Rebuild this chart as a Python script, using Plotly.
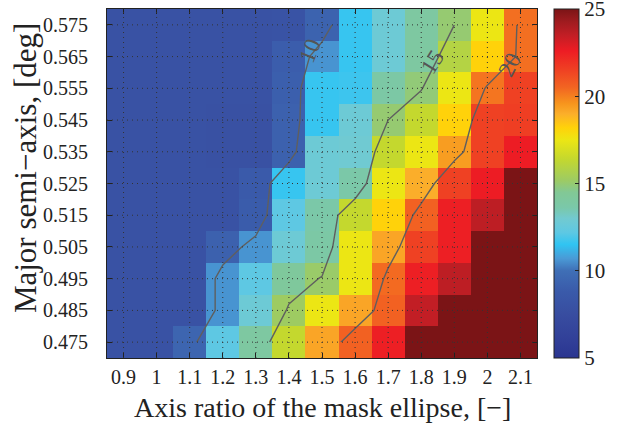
import plotly.graph_objects as go

# Data
axis_ratio = [0.9, 1.0, 1.1, 1.2, 1.3, 1.4, 1.5, 1.6, 1.7, 1.8, 1.9, 2.0, 2.1]
x_tick_text = ["0.9", "1", "1.1", "1.2", "1.3", "1.4", "1.5", "1.6", "1.7", "1.8", "1.9", "2", "2.1"]
semi_axis = [0.475, 0.485, 0.495, 0.505, 0.515, 0.525, 0.535, 0.545, 0.555, 0.565, 0.575]
y_tick_text = ["0.475", "0.485", "0.495", "0.505", "0.515", "0.525", "0.535", "0.545", "0.555", "0.565", "0.575"]

# rows listed bottom (0.475) to top (0.575)
row_0475 = [8.0, 8.0, 9.4, 12.2, 14.0, 16.4, 19.2, 20.6, 22.5, 26.0, 26.0, 26.0, 26.0]
row_0485 = [8.0, 8.0, 8.0, 10.6, 12.8, 15.2, 17.5, 19.2, 20.6, 23.5, 26.0, 26.0, 26.0]
row_0495 = [8.0, 8.0, 8.0, 10.6, 12.2, 14.2, 15.1, 17.5, 20.4, 22.5, 23.6, 26.0, 26.0]
row_0505 = [8.0, 8.0, 8.0, 9.2, 10.6, 12.8, 13.8, 17.5, 19.2, 21.5, 22.5, 25.5, 26.0]
row_0515 = [8.0, 8.0, 8.0, 8.0, 8.9, 12.2, 13.7, 16.4, 18.2, 20.6, 22.5, 23.6, 25.5]
row_0525 = [8.0, 8.0, 8.0, 8.0, 8.8, 11.6, 12.8, 13.7, 17.5, 19.0, 21.5, 22.6, 25.0]
row_0535 = [8.0, 8.0, 8.0, 7.9, 7.9, 9.2, 12.8, 12.9, 16.4, 17.5, 19.4, 21.5, 22.6]
row_0545 = [8.0, 8.0, 8.0, 7.9, 7.9, 9.2, 11.6, 12.8, 15.0, 16.4, 18.2, 21.5, 21.6]
row_0555 = [8.0, 8.0, 8.0, 8.0, 8.0, 9.1, 11.6, 11.7, 13.8, 14.9, 17.5, 20.2, 21.5]
row_0565 = [8.0, 8.0, 8.0, 8.0, 8.0, 9.0, 10.6, 11.6, 12.8, 14.0, 15.9, 18.2, 20.3]
row_0575 = [8.0, 8.0, 8.0, 8.0, 8.0, 8.1, 9.3, 11.6, 12.8, 14.0, 15.0, 17.5, 20.3]

z = [row_0475, row_0485, row_0495, row_0505, row_0515, row_0525,
     row_0535, row_0545, row_0555, row_0565, row_0575]

contour_levels = [10, 15, 20]
# contour label placement (x, y, angle) as seen in the original
label_x = [1.465, 1.833, 2.068]
label_y = [0.5668, 0.5632, 0.5625]
label_angle = [-68, -58, -62]

cbar_ticks = [5, 10, 15, 20, 25]

zmin, zmax = 5, 25
stops = [
    (5.0, "#2a3590"), (6.0, "#313f98"), (7.5, "#384da0"), (8.8, "#3a5aaa"),
    (10.0, "#3f6fb6"), (10.7, "#4a9ad6"), (11.5, "#30c4f2"), (12.2, "#5ec8e3"),
    (13.0, "#72cad0"), (13.6, "#7ac8aa"), (14.5, "#82c895"), (15.2, "#9ecb62"),
    (16.4, "#c4d82e"), (17.5, "#ece614"), (18.2, "#ffd20a"), (19.0, "#fbae2a"),
    (19.6, "#f7941d"), (20.5, "#f26522"), (21.5, "#ef4123"), (22.6, "#ed1c24"),
    (23.5, "#c21e25"), (24.3, "#9e1b1f"), (25.0, "#7b1416"),
]
colorscale = [[(v - zmin) / (zmax - zmin), c] for v, c in stops]

font_family = "Liberation Serif, Times New Roman, Times, serif"

fig = go.Figure()
fig.add_trace(go.Heatmap(
    x=axis_ratio, y=semi_axis, z=z, zmin=zmin, zmax=zmax,
    colorscale=colorscale,
    colorbar=dict(
        thickness=25, len=1, lenmode="fraction", y=0.5, yanchor="middle",
        x=1.04, xanchor="left", xpad=0, ypad=0,
        outlinewidth=1, outlinecolor="#222",
        tickmode="array", tickvals=cbar_ticks, ticktext=[str(t) for t in cbar_ticks],
        ticks="inside", ticklen=4, tickcolor="#222",
        ticklabeloverflow="allow",
        tickfont=dict(family=font_family, size=21, color="#222"),
    ),
    hoverinfo="skip",
))
fig.add_trace(go.Contour(
    x=axis_ratio, y=semi_axis, z=z,
    autocontour=False,
    contours=dict(start=contour_levels[0], end=contour_levels[-1], size=5,
                  coloring="none", showlabels=False),
    line=dict(color="#5f5f5f", width=1.4, smoothing=0),
    showscale=False, hoverinfo="skip",
))

shapes = []
for xv in axis_ratio:
    shapes.append(dict(type="line", xref="x", yref="paper", x0=xv, x1=xv, y0=0, y1=1,
                       line=dict(color="#333", width=1, dash="1px,4px"), layer="above"))
for yv in semi_axis:
    shapes.append(dict(type="line", xref="paper", yref="y", x0=0, x1=1, y0=yv, y1=yv,
                       line=dict(color="#333", width=1, dash="1px,4px"), layer="above"))

annotations = []
for lv, lx, ly, la in zip(contour_levels, label_x, label_y, label_angle):
    annotations.append(dict(x=lx, y=ly, xref="x", yref="y", text=str(lv), showarrow=False,
                            textangle=la, font=dict(family=font_family, size=23, color="#555")))
# axis titles
annotations.append(dict(x=0.5, y=-0.142, xref="paper", yref="paper",
                        text="Axis ratio of the mask ellipse, [\u2212]", showarrow=False,
                        xanchor="center", yanchor="middle",
                        font=dict(family=font_family, size=28, color="#222")))
annotations.append(dict(x=-0.19, y=0.545, xref="paper", yref="paper",
                        text="Major semi\u2212axis, [deg]", showarrow=False, textangle=-90,
                        xanchor="center", yanchor="middle",
                        font=dict(family=font_family, size=31, color="#222")))

fig.update_layout(
    width=636, height=423,
    margin=dict(l=107, r=99, t=9, b=65),
    paper_bgcolor="white", plot_bgcolor="white",
    font=dict(family=font_family, color="#222"),
    shapes=shapes, annotations=annotations,
    xaxis=dict(
        range=[0.85, 2.15], tickvals=axis_ratio, ticktext=x_tick_text,
        ticks="inside", ticklen=5, tickcolor="#222", mirror="ticks",
        showline=True, linecolor="#222", linewidth=1.2, showgrid=False, zeroline=False,
        tickfont=dict(size=20, color="#222"), ticklabelstandoff=1,
        layer="above traces",
    ),
    yaxis=dict(
        range=[0.47, 0.58], tickvals=semi_axis, ticktext=y_tick_text,
        ticks="inside", ticklen=5, tickcolor="#222", mirror="ticks",
        showline=True, linecolor="#222", linewidth=1.2, showgrid=False, zeroline=False,
        tickfont=dict(size=20, color="#222"), ticklabelstandoff=14,
        layer="above traces",
    ),
)

fig.write_html("out.html")
